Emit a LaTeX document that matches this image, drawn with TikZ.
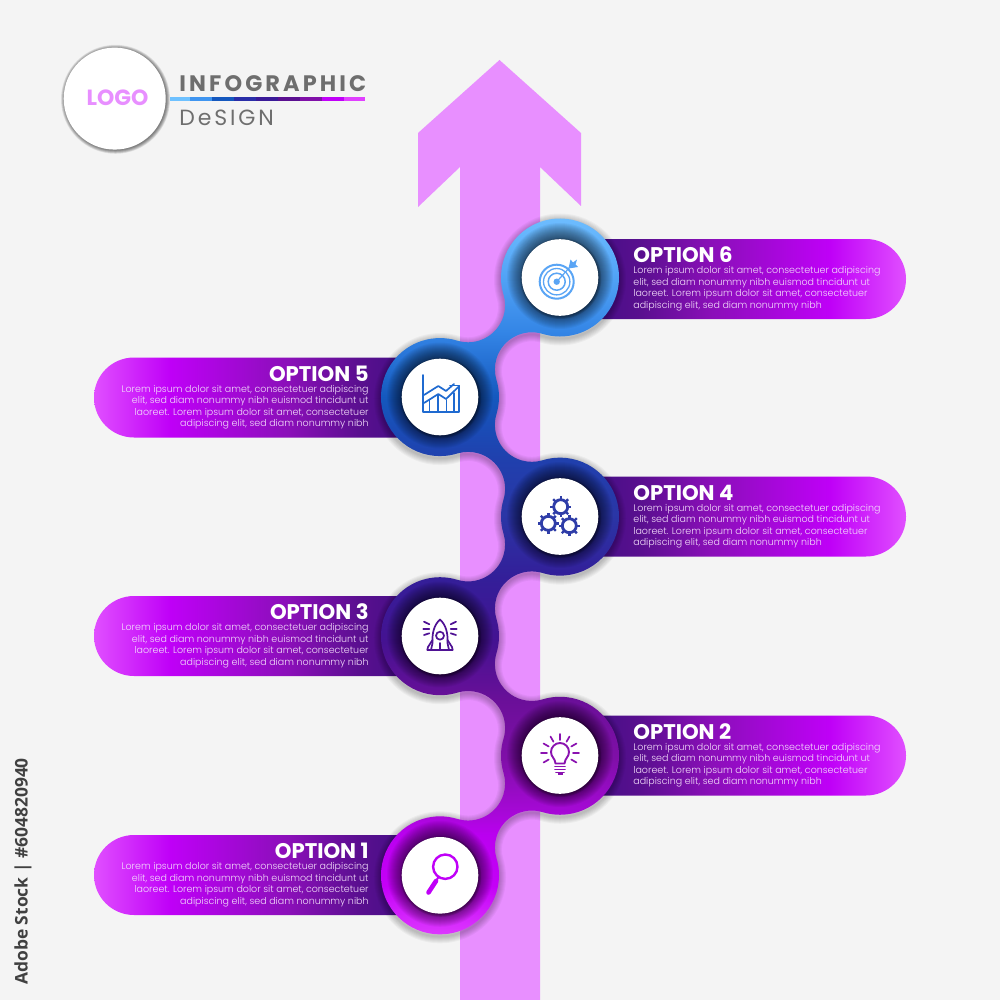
\documentclass[tikz,border=0pt]{standalone}
\usepackage{fontspec}
\setmainfont{Poppins}
\newfontfamily\headfont{Poppins}[UprightFont=* Bold]
\newfontfamily\bodyfont{Poppins}[UprightFont=* Light]
\newfontfamily\stockfont{Open Sans}
\newfontfamily\titlefont{Poppins}[UprightFont=* Bold,LetterSpace=14]
\newfontfamily\subfont{Poppins}[LetterSpace=13]
\definecolor{bgc}{HTML}{F4F4F4}
\definecolor{arrowpink}{HTML}{E88FFF}
\definecolor{bodytxt}{HTML}{F2DCFA}
\definecolor{greytxt}{HTML}{6E6E6E}
\definecolor{ic6}{HTML}{5AA5F5}
\definecolor{ic5}{HTML}{1F6AD0}
\definecolor{ic4}{HTML}{2F3DA8}
\definecolor{ic3}{HTML}{4F1294}
\definecolor{ic2}{HTML}{8A12B0}
\definecolor{ic1}{HTML}{C000F8}
\definecolor{seg1}{HTML}{6EC1FF}
\definecolor{seg2}{HTML}{3F95F0}
\definecolor{seg3}{HTML}{1558BE}
\definecolor{seg4}{HTML}{2A2EA8}
\definecolor{seg5}{HTML}{3A1A98}
\definecolor{seg6}{HTML}{5A0F90}
\definecolor{seg7}{HTML}{8010A8}
\definecolor{seg8}{HTML}{C000F8}
\definecolor{seg9}{HTML}{E040FF}
\pgfdeclareverticalshading{chainshade}{100bp}{
 rgb(0bp)=(.878,.25,1);
 rgb(25bp)=(.878,.25,1);
 rgb(28.8bp)=(.77,0,.97);
 rgb(32.3bp)=(.73,0,.94);
 rgb(33.7bp)=(.66,.03,.85);
 rgb(37.5bp)=(.5,.06,.66);
 rgb(41.4bp)=(.42,.06,.6);
 rgb(45.5bp)=(.27,.07,.57);
 rgb(50bp)=(.2,.12,.6);
 rgb(54.2bp)=(.165,.21,.65);
 rgb(58bp)=(.125,.25,.68);
 rgb(62.3bp)=(.08,.345,.745);
 rgb(66.7bp)=(.2,.52,.9);
 rgb(70.9bp)=(.33,.65,.97);
 rgb(75bp)=(.44,.75,1);
 rgb(100bp)=(.44,.75,1)}
\pgfdeclarehorizontalshading{barright}{100bp}{
 rgb(0bp)=(.28,.06,.53);
 rgb(30.8bp)=(.28,.06,.53);
 rgb(36.6bp)=(.35,.06,.56);
 rgb(46.7bp)=(.54,.06,.72);
 rgb(64bp)=(.75,0,.97);
 rgb(75bp)=(.88,.31,1);
 rgb(100bp)=(.88,.31,1)}
\pgfdeclarehorizontalshading{barleft}{100bp}{
 rgb(0bp)=(.88,.31,1);
 rgb(25bp)=(.88,.31,1);
 rgb(36bp)=(.75,0,.97);
 rgb(53.3bp)=(.54,.06,.72);
 rgb(63.4bp)=(.35,.06,.56);
 rgb(69.2bp)=(.28,.06,.53);
 rgb(100bp)=(.28,.06,.53)}
\tikzset{
 headtxt/.style={text=white,font=\headfont\fontsize{10.6}{11}\selectfont,inner sep=0pt},
 bodyr/.style={text=bodytxt,font=\bodyfont\fontsize{4.75}{5.75}\selectfont,inner sep=0pt,align=left,anchor=west},
 bodyl/.style={text=bodytxt,font=\bodyfont\fontsize{4.75}{5.75}\selectfont,inner sep=0pt,align=right,anchor=east},
 iconl/.style={line width=0.85pt,line cap=round,line join=round},
}
\def\chainoutline{(503.52,294.58)
 arc[radius=59,start angle=-196.82,end angle=107.03]
 arc[radius=37,start angle=-72.97,end angle=-196.82]
 arc[radius=59,start angle=-16.82,end angle=16.82]
 arc[radius=37,start angle=196.82,end angle=72.97]
 arc[radius=59,start angle=-107.03,end angle=107.03]
 arc[radius=37,start angle=-72.97,end angle=-196.82]
 arc[radius=59,start angle=-16.82,end angle=16.82]
 arc[radius=37,start angle=196.82,end angle=72.97]
 arc[radius=59,start angle=-107.03,end angle=107.03]
 arc[radius=37,start angle=-72.97,end angle=-196.82]
 arc[radius=59,start angle=-16.82,end angle=287.03]
 arc[radius=37,start angle=107.03,end angle=-16.82]
 arc[radius=59,start angle=163.18,end angle=196.82]
 arc[radius=37,start angle=16.82,end angle=-107.03]
 arc[radius=59,start angle=72.97,end angle=287.03]
 arc[radius=37,start angle=107.03,end angle=-16.82]
 arc[radius=59,start angle=163.18,end angle=196.82]
 arc[radius=37,start angle=16.82,end angle=-107.03]
 arc[radius=59,start angle=72.97,end angle=287.03]
 arc[radius=37,start angle=107.03,end angle=-16.82]
 -- cycle}
\begin{document}
\begin{tikzpicture}[x=0.5pt,y=-0.5pt]
\useasboundingbox (0,0) rectangle (1000,1000);
\fill[bgc] (0,0) rectangle (1000,1000);
% big arrow
\fill[arrowpink] (460,1000) -- (460,167) -- (418,207) -- (418,133) -- (499.5,60) -- (581,133) -- (581,206) -- (540,167) -- (540,1000) -- cycle;
% bars
\foreach \yc in {279,516.5,755.5}{
 \shade[shading=barright] (560,\yc-40) -- (866,\yc-40) arc[start angle=-90,end angle=90,radius=40] -- (560,\yc+40) -- cycle;
}
\foreach \yc in {397.5,636,875}{
 \shade[shading=barleft] (440,\yc-40) -- (134,\yc-40) arc[start angle=-90,end angle=-270,radius=40] -- (440,\yc+40) -- cycle;
}
% soft outer shadow of the chain
\begin{scope}[shift={(0,2)}]
\foreach \w in {1,2,...,7}{\draw[black,opacity=0.035,line width=\w pt] \chainoutline;}
\end{scope}
% chain
\shade[shading=chainshade] \chainoutline;
% inner glow, white discs
\foreach \cx/\cy in {560/277.5,440/397,560/516.5,440/636,560/755.5,440/875.3}{
 \foreach \r in {39,40,...,53}{\fill[black,opacity=0.042] (\cx,\cy-1.5) circle[radius=\r];}
 \foreach \r in {38.5,39.5,40.5}{\fill[black,opacity=0.13] (\cx+0.7,\cy+1) circle[radius=\r];}
 \fill[white] (\cx,\cy) circle[radius=38.3];
}
% option headings and text
\foreach \n/\yc in {6/279,4/516.5,2/755.5}{
 \node[headtxt,anchor=west] (h\n) at (633,\yc-23.9) {OPTION \n};
 \node[bodyr] (b\n) at (633,\yc+9.6) {Lorem ipsum dolor sit amet, consectetuer adipiscing\\elit, sed diam nonummy nibh euismod tincidunt ut\\laoreet. Lorem ipsum dolor sit amet, consectetuer\\adipiscing elit, sed diam nonummy nibh};
}
\foreach \n/\yc in {5/397.5,3/636,1/875}{
 \node[headtxt,anchor=east] (h\n) at (369,\yc-23.9) {OPTION \n};
 \node[bodyl] (b\n) at (369,\yc+9.6) {Lorem ipsum dolor sit amet, consectetuer adipiscing\\elit, sed diam nonummy nibh euismod tincidunt ut\\laoreet. Lorem ipsum dolor sit amet, consectetuer\\adipiscing elit, sed diam nonummy nibh};
}
% icon 6: target
\begin{scope}[ic6,iconl]
\draw[line width=1pt] (556.7,281.7) circle[radius=17];
\draw[line width=0.65pt] (556.7,281.7) circle[radius=13.2];
\draw[line width=0.75pt] (556.7,281.7) circle[radius=8.5];
\fill (556.7,281.7) circle[radius=3.2];
\draw[line width=0.6pt] (556.7,281.7) -- (570,267);
\fill (568.5,268.5) -- (570.5,259.5) -- (573,262.5) -- (577,259.5) -- (575.5,264.5) -- (578,267) -- cycle;
\end{scope}
% icon 5: chart
\begin{scope}[ic5,iconl]
\draw (422.7,375) -- (422.7,412) -- (459.3,412) -- (459.3,385.5) -- (450,385.5);
\draw (424,395) -- (438.3,386) -- (446,391) -- (454,384);
\draw (424,403) -- (438.3,394) -- (446,399) -- (459.3,386);
\draw (429.5,400) -- (429.5,412);
\draw (438.3,395) -- (438.3,412);
\draw (446.5,400) -- (446.5,412);
\draw (454,393) -- (454,412);
\end{scope}
% icon 4: gears
\begin{scope}[ic4]
\foreach \gx/\gy in {560.7/506.7,548.3/523.3,569.3/525.7}{
 \draw[line width=1.4pt] (\gx,\gy) circle[radius=7];
 \foreach \a in {0,45,...,315}{\draw[line width=1.2pt] (\gx,\gy) ++(\a:7) -- ++(\a:3.6);}
}
\end{scope}
% icon 3: rocket
\begin{scope}[ic3,iconl]
\draw (440,619.5) .. controls (446,625) and (448,633) .. (447.5,643) -- (449,650) -- (431,650) -- (432.5,643) .. controls (432,633) and (434,625) .. (440,619.5) -- cycle;
\draw (432.5,640) -- (428,647) -- (427.3,650) -- (431,650);
\draw (447.5,640) -- (452,647) -- (452.7,650) -- (449,650);
\draw (440,635.7) circle[radius=4];
\draw (440,643) -- (440,650);
\draw (424,621.7) -- (429.3,624.3);
\draw (423.3,629) -- (429.3,629);
\draw (424,635) -- (429.3,633.3);
\draw (456,621.7) -- (450.7,624.3);
\draw (456.7,629) -- (450.7,629);
\draw (456,635) -- (450.7,633.3);
\end{scope}
% icon 2: bulb
\begin{scope}[ic2,iconl]
\draw[line width=0.95pt] (555.5,763.5) .. controls (555,758) and (551,757) .. (551,752) arc[radius=9,start angle=180,end angle=360] .. controls (569,757) and (565,758) .. (564.5,763.5) -- cycle;
\draw (555,766.5) -- (565,766.5);
\draw (555,769.5) -- (565,769.5);
\draw (556,772.5) -- (564,772.5);
\fill (557.5,773) rectangle (562.5,775);
\foreach \a in {-90,-60,-30,0,30,-120,-150,-180,150}{
 \draw (560,753) ++(\a:13) -- ++(\a:6);}
\end{scope}
% icon 1: magnifier
\begin{scope}[ic1,line cap=round]
\draw[line width=1.2pt] (445.3,866.7) circle[radius=12.2];
\draw[line width=1pt] (438.5,877) -- (436,881);
\draw[line width=2.3pt] (436,881) -- (428.5,892.5);
\end{scope}
% logo
\foreach \r in {51,51.5,...,54.5}{\fill[black,opacity=0.075] (115.5,99.3) circle[radius=\r];}
\fill[white] (114.7,98.6) circle[radius=51];
\node[text=arrowpink,font=\headfont\fontsize{11}{12}\selectfont,inner sep=0pt] (logo) at (117.5,97.5) {LOGO};
\node[text=greytxt,font=\titlefont\fontsize{11.2}{12}\selectfont,inner sep=0pt,anchor=west] (title) at (179,84) {INFOGRAPHIC};
\node[text=greytxt,font=\subfont\fontsize{11}{12}\selectfont,inner sep=0pt,anchor=west] (sub) at (179,117.5) {DeSIGN};
% logo rule
\foreach \xa/\xb/\c in {170/190/seg1,190/212.3/seg2,212.3/234/seg3,234/256/seg4,256/278/seg5,278/300/seg6,300/321.7/seg7,321.7/344/seg8,344/365/seg9}{
 \fill[\c] (\xa,97.5) rectangle (\xb,101.5);
}
% stock label
\node[text=black!75,font=\stockfont\bfseries\fontsize{8.7}{10}\selectfont,inner sep=0pt,rotate=90,anchor=west] (stock) at (23,985) {Adobe Stock | \#604820940};
\end{tikzpicture}
\end{document}
